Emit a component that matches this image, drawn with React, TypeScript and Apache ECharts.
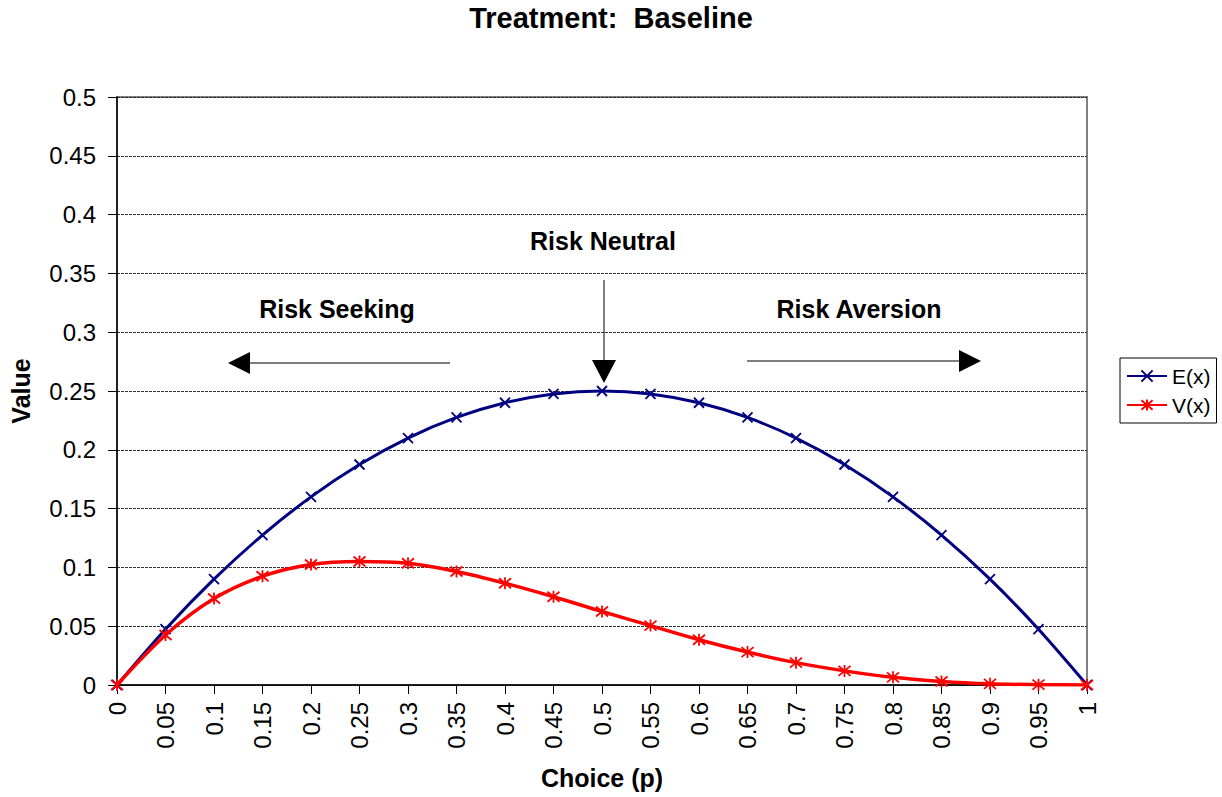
import React, { useEffect, useRef } from "react";
import * as echarts from "echarts";

const categories = ["0","0.05","0.1","0.15","0.2","0.25","0.3","0.35","0.4","0.45","0.5","0.55","0.6","0.65","0.7","0.75","0.8","0.85","0.9","0.95","1"];
const eValues = [0,0.0475,0.09,0.1275,0.16,0.1875,0.21,0.2275,0.24,0.2475,0.25,0.2475,0.24,0.2275,0.21,0.1875,0.16,0.1275,0.09,0.0475,0];
const vValues = [0,0.0425,0.0735,0.0925,0.1025,0.105,0.1035,0.0965,0.0865,0.075,0.0625,0.0505,0.0385,0.028,0.019,0.012,0.0065,0.003,0.001,0.0003,0];
const yTicks = { min: 0, max: 0.5, interval: 0.05 };

const crossPath = "path://M0,0L10,10M10,0L0,10";
const starPath = "path://M0,0L10,10M10,0L0,10M5,-1L5,11";

export default function App() {
  const ref = useRef<HTMLDivElement>(null);
  useEffect(() => {
    if (!ref.current) return;
    const chart = echarts.init(ref.current, null, { renderer: "svg" });
    const font = "Liberation Sans, Arial, sans-serif";
    const arrowStroke = { stroke: "#555", lineWidth: 1.5 };
    const noteStyle = { fontFamily: font, fontSize: 25, fontWeight: "bold", fill: "#000", align: "center", verticalAlign: "middle" };
    chart.setOption({
      animation: false,
      backgroundColor: "#fff",
      textStyle: { fontFamily: font },
      title: {
        text: "Treatment:  Baseline",
        left: "center",
        top: 3,
        padding: 0,
        textStyle: { fontFamily: font, fontSize: 29, fontWeight: "bold", color: "#000" },
      },
      grid: { left: 117, right: 135, top: 97, bottom: 112, show: true, borderColor: "#808080", borderWidth: 2, backgroundColor: "transparent" },
      legend: {
        orient: "vertical",
        left: 1120,
        top: 358,
        width: 97,
        padding: [5, 6, 5, 6],
        itemGap: 3,
        itemWidth: 40,
        itemHeight: 14,
        borderColor: "#000",
        borderWidth: 1,
        textStyle: { fontFamily: font, fontSize: 21, lineHeight: 26, color: "#000" },
        data: ["E(x)", "V(x)"],
      },
      xAxis: {
        type: "category",
        data: categories,
        boundaryGap: false,
        name: "Choice (p)",
        nameLocation: "middle",
        nameGap: 80,
        nameTextStyle: { fontFamily: font, fontSize: 25, fontWeight: "bold", color: "#000" },
        axisLine: { lineStyle: { color: "#000", width: 1.5 } },
        axisTick: { show: true, alignWithLabel: true, length: 9, lineStyle: { color: "#000" } },
        axisLabel: { rotate: 90, fontSize: 24, color: "#000", margin: 17, fontFamily: font, interval: 0 },
        splitLine: { show: false },
      },
      yAxis: {
        type: "value",
        min: yTicks.min,
        max: yTicks.max,
        interval: yTicks.interval,
        name: "Value",
        nameLocation: "middle",
        nameGap: 84,
        nameRotate: 90,
        nameTextStyle: { fontFamily: font, fontSize: 25, fontWeight: "bold", color: "#000" },
        axisLine: { show: true, lineStyle: { color: "#000", width: 1.5 } },
        axisTick: { show: true, length: 9, lineStyle: { color: "#000" } },
        axisLabel: { fontSize: 24, color: "#000", margin: 21, fontFamily: font },
        splitLine: { show: true, lineStyle: { color: "#333", type: [3, 1], width: 1 } },
      },
      series: [
        {
          name: "E(x)",
          type: "line",
          data: eValues,
          smooth: 0.3,
          symbol: crossPath,
          symbolSize: 10,
          lineStyle: { color: "#000080", width: 3 },
          itemStyle: { color: "#000080", borderColor: "#000080", borderWidth: 1.8 },
          z: 3,
        },
        {
          name: "V(x)",
          type: "line",
          data: vValues,
          smooth: 0.3,
          symbol: starPath,
          symbolSize: 12,
          lineStyle: { color: "#ff0000", width: 3.5 },
          itemStyle: { color: "#ff0000", borderColor: "#ff0000", borderWidth: 1.8 },
          z: 4,
        },
      ],
      graphic: [
        { type: "text", x: 603, y: 241, style: { ...noteStyle, text: "Risk Neutral" } },
        { type: "text", x: 337, y: 309, style: { ...noteStyle, text: "Risk Seeking" } },
        { type: "text", x: 859, y: 309, style: { ...noteStyle, text: "Risk Aversion" } },
        { type: "line", shape: { x1: 450, y1: 363, x2: 246, y2: 363 }, style: arrowStroke },
        { type: "polygon", shape: { points: [[228, 363], [250, 352], [250, 374]] }, style: { fill: "#000" } },
        { type: "line", shape: { x1: 747, y1: 361, x2: 962, y2: 361 }, style: arrowStroke },
        { type: "polygon", shape: { points: [[981, 361], [959, 350], [959, 372]] }, style: { fill: "#000" } },
        { type: "line", shape: { x1: 604, y1: 280, x2: 604, y2: 362 }, style: arrowStroke },
        { type: "polygon", shape: { points: [[604, 383], [592, 360], [616, 360]] }, style: { fill: "#000" } },
      ],
    });
    return () => chart.dispose();
  }, []);
  return <div ref={ref} style={{ position: "fixed", left: 0, top: 0, width: 1222, height: 797 }} />;
}
